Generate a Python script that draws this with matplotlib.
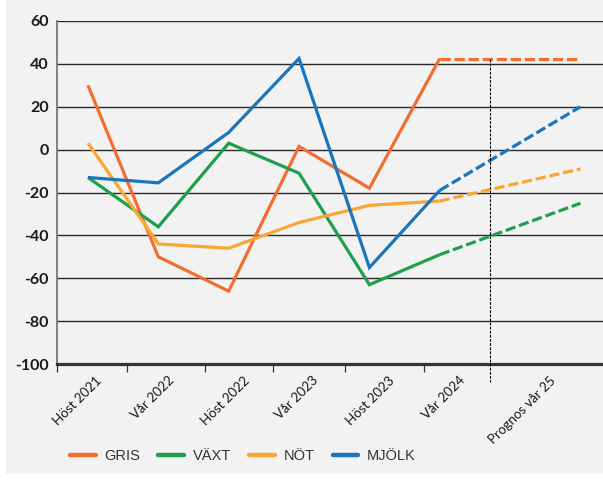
import matplotlib.pyplot as plt
from matplotlib.patches import Rectangle

# DATA
categories = ["Höst 2021", "Vår 2022", "Höst 2022", "Vår 2023",
              "Höst 2023", "Vår 2024", "Prognos vår 25"]
x_pos = [0, 1, 2, 3, 4, 5, 7]

series_names = ["GRIS", "VÄXT", "NÖT", "MJÖLK"]
gris = [30, -50, -66, 1.5, -18, 42.5, 42.5]
vaxt = [-13, -36, 3, -11, -63, -49, -25]
not_ = [3, -44, -46, -34, -26, -24, -9]
mjolk = [-13, -15.5, 8, 42.5, -55, -19, 20]

y_ticks = [-100, -80, -60, -40, -20, 0, 20, 40, 60]

COLORS = ["#f26d32", "#1f9e4b", "#faa634", "#1b75bb"]

# layout
label_anchor = [0.16, 1.2, 2.27, 3.24, 4.33, 5.33, 6.62]
tick_marks = [-0.44, 0.56, 1.66, 2.63, 3.66, 4.78]
split_x = 5.72

W, H = 603, 482
fig = plt.figure(figsize=(W / 100, H / 100), dpi=100, facecolor="white")
fig.patches.append(Rectangle((6 / W, 8 / H), 1 - 6 / W, 1 - 8 / H,
                             transform=fig.transFigure, facecolor="#f2f2f2",
                             edgecolor="none", zorder=-10))

ax = fig.add_axes([57 / W, 1 - 364 / H, 1 - 57 / W, (364 - 21) / H])
ax.set_facecolor("none")
ax.set_zorder(2)

for vals, name, col in zip([gris, vaxt, not_, mjolk], series_names, COLORS):
    ax.plot(x_pos[:6], vals[:6], color=col, lw=2.3, label=name,
            solid_capstyle="butt", solid_joinstyle="miter", zorder=3)
    ax.plot(x_pos[5:], vals[5:], color=col, lw=2.3, dashes=(3.2, 1.2),
            dash_capstyle="butt", zorder=3)

# forecast divider
ax.plot([split_x, split_x], [gris[-1], -108.5], color="black", lw=0.8,
        linestyle=(0, (2.5, 1.2)), clip_on=False, zorder=4)

ax.set_xlim(-0.44, 7.32)
ax.set_ylim(-100, 60)

ax.set_yticks(y_ticks)
ax.set_yticklabels([str(v) for v in y_ticks], fontsize=11.5, fontweight="bold",
                   color="#1a1a1a", family="Lato")
ax.tick_params(axis="y", length=0, pad=6)
ax.yaxis.grid(True, color="#2a2a2a", lw=1.0)
ax.set_axisbelow(True)

ax.set_xticks(label_anchor)
ax.set_xticklabels(categories, rotation=45, ha="right", va="center",
                   rotation_mode="anchor", fontsize=9.6, color="#1a1a1a",
                   family="Lato")
ax.tick_params(axis="x", which="major", length=0, pad=10.5)
ax.set_xticks(tick_marks, minor=True)
ax.tick_params(axis="x", which="minor", length=5.5, width=0.9, color="#333333")

for s in ["top", "right"]:
    ax.spines[s].set_visible(False)
ax.spines["left"].set_color("#6e6e6e")
ax.spines["left"].set_linewidth(1.2)
ax.spines["bottom"].set_color("#333333")
ax.spines["bottom"].set_linewidth(2.3)

leg = fig.legend(loc="center left", bbox_to_anchor=(70 / W, 1 - 456 / H),
                 ncol=4, frameon=False, handlelength=1.75, handletextpad=0.6,
                 columnspacing=1.25, borderpad=0, borderaxespad=0,
                 prop={"family": "Liberation Sans", "size": 10.5})
for line in leg.get_lines():
    line.set_linewidth(3.2)
    line.set_linestyle("-")
    line.set_solid_capstyle("round")
for t in leg.get_texts():
    t.set_color("#333333")

fig.savefig("out.png", dpi=100, facecolor=fig.get_facecolor())
